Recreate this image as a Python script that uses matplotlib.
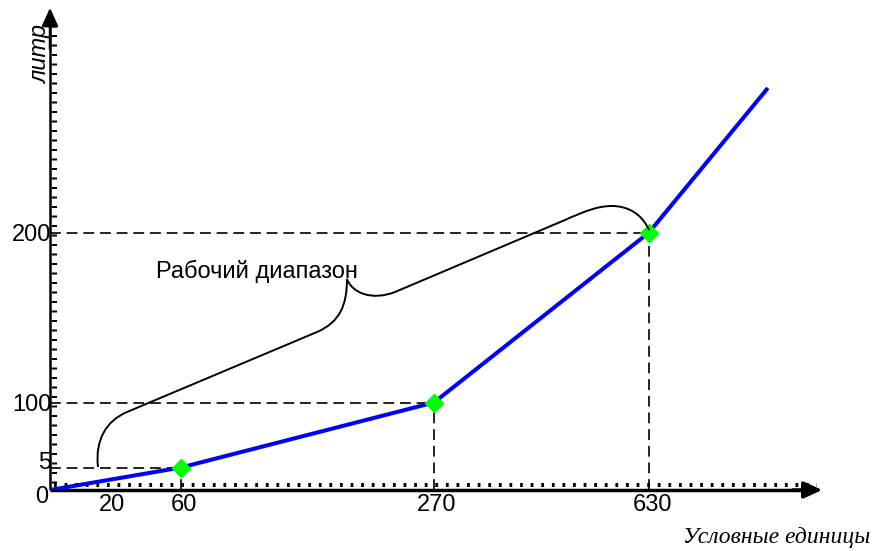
import numpy as np
import matplotlib
matplotlib.use("Agg")
import matplotlib.pyplot as plt
from matplotlib.path import Path
from matplotlib.patches import PathPatch
from matplotlib.transforms import Affine2D, ScaledTranslation

# ---- data -------------------------------------------------------------
units = [0, 60, 270, 630, 829]          # условные единицы
litres = [0, 5, 100, 200, 285]          # литр
marked = [1, 2, 3]                      # indices of the highlighted points
x_ticks = [20, 60, 270, 630]
y_ticks = [5, 100, 200]
x_title = "Условные единицы"
y_title = "литр"
range_label = "Рабочий диапазон"

# ---- schematic (non-linear) axis scales ---------------------------------
W, H = 875, 551
x_knots = ([0, 20, 60, 270, 630], [50, 109, 181, 434, 649])
y_knots = ([0, 5, 100, 200], [H - 490, H - 467.5, H - 402.5, H - 232.5])


def piecewise(v, kv, kp):
    v = np.asarray(v, float)
    out = np.interp(v, kv, kp)
    lo_slope = (kp[1] - kp[0]) / (kv[1] - kv[0])
    hi_slope = (kp[-1] - kp[-2]) / (kv[-1] - kv[-2])
    out = np.where(v < kv[0], kp[0] + (v - kv[0]) * lo_slope, out)
    out = np.where(v > kv[-1], kp[-1] + (v - kv[-1]) * hi_slope, out)
    return out


fx = (lambda v: piecewise(v, *x_knots), lambda p: piecewise(p, x_knots[1], x_knots[0]))
fy = (lambda v: piecewise(v, *y_knots), lambda p: piecewise(p, y_knots[1], y_knots[0]))

fig = plt.figure(figsize=(W / 100, H / 100), dpi=100)
ax = fig.add_axes([50 / W, (H - 490) / H, 1 - 50 / W, 490 / H])
ax.set_xscale("function", functions=fx)
ax.set_yscale("function", functions=fy)
ax.set_xlim(0, float(fx[1](W)))
ax.set_ylim(0, float(fy[1](H)))
for s in ax.spines.values():
    s.set_visible(False)
ax.patch.set_visible(False)

# pixel transform (origin top-left) for the decorations
px = Affine2D().scale(1 / W, -1 / H).translate(0, 1) + fig.transFigure

def shift(dx, dy, base):
    return base + ScaledTranslation(dx / 100, -dy / 100, fig.dpi_scale_trans)

# ---- axes with arrows ---------------------------------------------------
ax.plot([0, 0], [0, 0.97], color="black", lw=1.8, transform=ax.transAxes,
        clip_on=False, solid_capstyle="butt")
ax.plot([0, 0], [0.015, 0.955], color="black", lw=3.6, transform=shift(4, 0, ax.transAxes),
        clip_on=False, dashes=(0.4, 1.5))
ax.plot([0, 0.92], [0, 0], color="black", lw=2.5, transform=ax.transAxes,
        clip_on=False, solid_capstyle="butt")
ax.plot([0.005, 0.93], [0, 0], color="black", lw=2.9, transform=shift(0, -5, ax.transAxes),
        clip_on=False, dashes=(0.68, 1.95))
ax.annotate("", xy=(0, 0.984), xytext=(0, 0.9), xycoords="axes fraction",
            arrowprops=dict(arrowstyle="-|>,head_length=11,head_width=5", mutation_scale=1,
                            color="black", lw=1.8, shrinkA=0, shrinkB=0))
ax.annotate("", xy=(0.936, 0), xytext=(0.9, 0), xycoords="axes fraction",
            arrowprops=dict(arrowstyle="-|>,head_length=11,head_width=5", mutation_scale=1,
                            color="black", lw=2.5, shrinkA=0, shrinkB=0))

# ---- dashed guides -----------------------------------------------------
for i in marked:
    ax.plot([0, units[i]], [litres[i], litres[i]], color="black", lw=1.2, dashes=(6.5, 3.5))
    ax.plot([units[i], units[i]], [0, litres[i]], color="black", lw=1.2, dashes=(6.5, 3.5))

# ---- main curve -----------------------------------------------------------
ax.plot(units, litres, color="#0000ff", lw=2.9, solid_capstyle="butt", zorder=4)
ax.plot([units[i] for i in marked], [litres[i] for i in marked], "D", color="#00ff00",
        ms=10.5, mec="none", zorder=5)

# ---- ticks --------------------------------------------------------------
font = "Liberation Sans"
ax.set_xticks(x_ticks, [str(t) for t in x_ticks])
ax.set_yticks(y_ticks, [str(t) for t in y_ticks])
ax.xaxis.set_minor_locator(matplotlib.ticker.NullLocator())
ax.yaxis.set_minor_locator(matplotlib.ticker.NullLocator())
ax.tick_params(length=0, labelsize=17)
ax.tick_params(axis="x", pad=3)
ax.tick_params(axis="y", pad=-1)
for lab in ax.get_xticklabels():
    lab.set_fontfamily(font)
    lab.set_transform(shift(3, 0, lab.get_transform()))
for lab in ax.get_yticklabels():
    lab.set_fontfamily(font)
ax.get_yticklabels()[0].set_transform(shift(0, -7, ax.get_yticklabels()[0].get_transform()))
ax.text(42, 497, "0", transform=px, ha="center", va="center", fontsize=17, family=font)

# ---- titles ---------------------------------------------------------------
ax.text(41, 54, y_title, transform=px, rotation=90, ha="center", va="center",
        fontsize=17, style="italic", family=font)
ax.text(870, 537, x_title, transform=px, ha="right", va="center",
        fontsize=17, style="italic", family="Liberation Serif")

# ---- brace for the working range ---------------------------------------
verts = [(98, 467), (95, 440), (106, 421), (127, 412),
         (317, 332),
         (340, 322), (347, 305), (347, 279),
         (352, 293), (372, 301), (395, 292),
         (565, 220),
         (585, 211), (598, 206), (612, 206),
         (628, 206), (642, 214), (649, 230)]
codes = [Path.MOVETO, Path.CURVE4, Path.CURVE4, Path.CURVE4,
         Path.LINETO,
         Path.CURVE4, Path.CURVE4, Path.CURVE4,
         Path.CURVE4, Path.CURVE4, Path.CURVE4,
         Path.LINETO,
         Path.CURVE4, Path.CURVE4, Path.CURVE4,
         Path.CURVE4, Path.CURVE4, Path.CURVE4]
fig.add_artist(PathPatch(Path(verts, codes), transform=px, fill=False, lw=1.4, color="black"))
ax.text(156, 271, range_label, transform=px, ha="left", va="center",
        fontsize=17, family=font)

fig.savefig("out.png", dpi=100)
